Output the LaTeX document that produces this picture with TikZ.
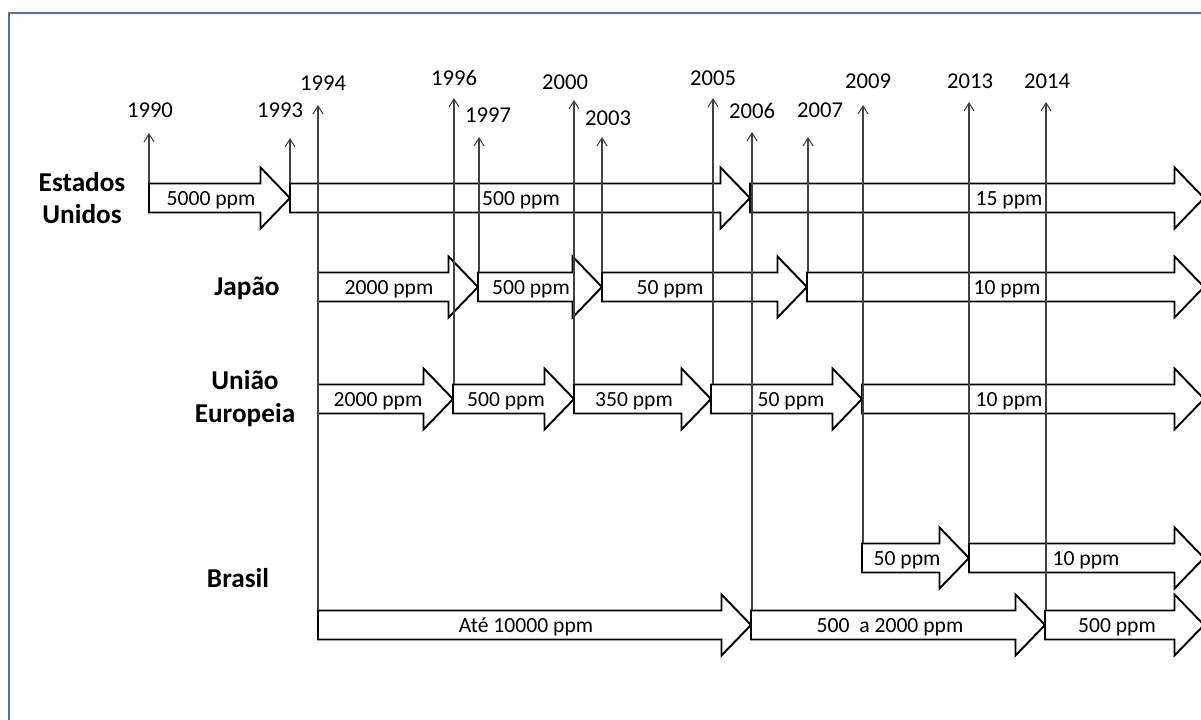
\documentclass[tikz,border=0pt]{standalone}
\usepackage{fontspec}
\setmainfont{Carlito}
\usetikzlibrary{arrows.meta}

\begin{document}
\begin{tikzpicture}[x=0.02cm, y=-0.02cm,
  >={Straight Barb[length=1.6mm,width=2mm]},
  blockarr/.style={draw=black,line width=1.1pt,fill=white,line join=miter},
  ppm/.style={font=\fontsize{12.3}{14}\selectfont,anchor=base,inner sep=0pt},
  year/.style={font=\fontsize{12.9}{15}\selectfont,inner sep=0pt},
  country/.style={font=\fontsize{15.5}{18.7}\selectfont\bfseries,align=center,inner sep=0pt},
  yline/.style={->,draw=black!75,line width=0.6pt},
  frame/.style={draw={rgb,255:red,79;green,113;blue,166},line width=1.6pt}]
\useasboundingbox (0,0) rectangle (1201,720);
\draw[frame] (9,13) rectangle (1230,740);

% countries
\node[country] (eua) at (82,198) {Estados\\Unidos};
\node[country] (jap) at (247,288) {Japão};
\node[country] (ue) at (245,399) {União\\Europeia};
\node[country] (bra) at (238,578) {Brasil};

% block arrows: row y / start / end / text x / text
\foreach \y/\a/\b/\t/\l [count=\i] in {
  198/149/290/211/5000 ppm, 198/290/750/521/500 ppm, 198/750/1204/1009/15 ppm,
  287/318/478/389/2000 ppm, 287/478/602/531/500 ppm, 287/602/807/670/50 ppm, 287/807/1204/1007/10 ppm,
  399/318/453/378/2000 ppm, 399/453/574/506/500 ppm, 399/574/711/634/350 ppm, 399/711/862/791/50 ppm, 399/862/1204/1009/10 ppm,
  558/862/969/907/50 ppm, 558/969/1204/1086/10 ppm,
  625/318/751/526/Até 10000 ppm, 625/751/1045/890/500\ \ a 2000 ppm, 625/1045/1204/1117/500 ppm}
{
  \draw[blockarr] (\a,\y-14.5) -- (\b-29.5,\y-14.5) -- (\b-29.5,\y-30.5) -- (\b,\y)
    -- (\b-29.5,\y+30.5) -- (\b-29.5,\y+14.5) -- (\a,\y+14.5) -- cycle;
  \node[ppm] (ppm\i) at (\t,\y+7) {\l};
}

% years: year / line x / tip / foot / label x / label y
\foreach \yr/\x/\tip/\bot/\lx/\ly in {
  1990/149/133/183/150/110, 1993/290/138/183/280/110, 1994/318/105/610/323/83,
  1996/454/98/384/454/78, 1997/479/137/272/488/115, 2000/574/100/384/565/82,
  2003/602/137/272/608/118, 2005/713/98/384/713/78, 2006/752/132/610/752/111,
  2007/808/137/272/820/110, 2009/863/105/543/868/81, 2013/969/102/543/970/81,
  2014/1046/102/610/1047/81}
{
  \node[year] (y\yr) at (\lx,\ly) {\yr};
  \coordinate (t\yr) at (\x,\tip);
  \coordinate (b\yr) at (\x,\bot);
  \draw[yline] (b\yr) -- (t\yr);
}
\end{tikzpicture}
\end{document}
